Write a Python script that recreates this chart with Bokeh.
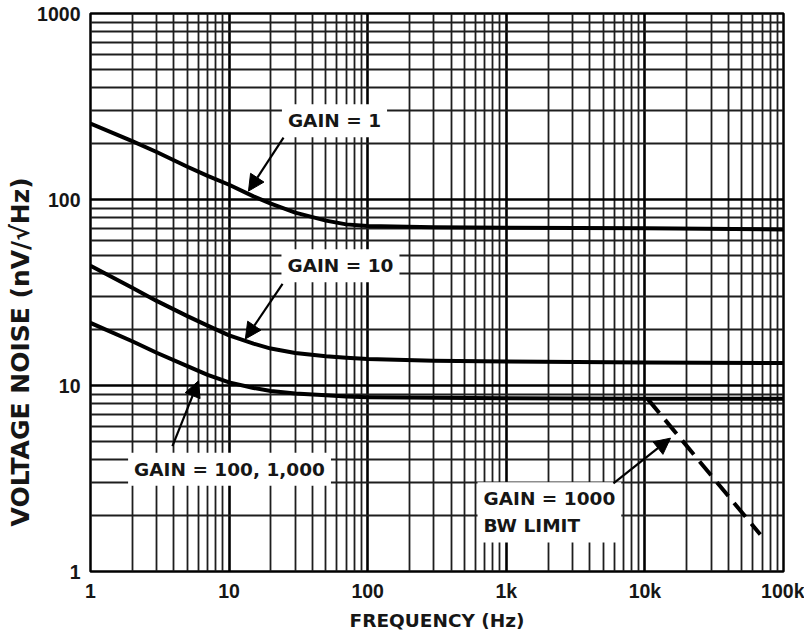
from bokeh.plotting import figure
from bokeh.models import FixedTicker, Label, Arrow, NormalHead, Title
from bokeh.embed import file_html
from bokeh.resources import INLINE

# ---- data ----
freq = [1, 2, 3, 5, 7, 10, 15, 20, 30, 50, 70, 100, 300, 1000, 10000, 100000]
gain1 = [256, 206, 180, 150, 134, 120, 104, 95, 85, 77, 73.5, 72, 71, 70.5, 70, 69]
gain10 = [44, 33.5, 28.5, 23.6, 21.0, 18.6, 16.8, 15.8, 14.95, 14.35, 14.1, 13.9, 13.6, 13.45, 13.3, 13.2]
gain100 = [21.7, 17.3, 15.0, 12.7, 11.4, 10.4, 9.7, 9.35, 9.05, 8.85, 8.72, 8.65, 8.58, 8.55, 8.5, 8.5]
bw_freq = [10500, 68000]
bw_noise = [8.45, 1.58]

x_ticks = [1, 10, 100, 1000, 10000, 100000]
x_tick_labels = ["1", "10", "100", "1k", "10k", "100k"]
y_ticks = [1, 10, 100, 1000]
y_tick_labels = ["1", "10", "100", "1000"]

TICK_FONT = "Liberation Sans"
FONT = "DejaVu Sans"
TXT = "#161616"

p = figure(x_axis_type="log", y_axis_type="log",
           x_range=(1, 100000), y_range=(1, 1000),
           frame_width=693, frame_height=558,
           min_border_left=90, min_border_top=13, min_border_right=21, min_border_bottom=58,
           output_backend="svg", toolbar_location=None)

x_minor = [k * d for d in x_ticks[:-1] for k in range(2, 10)]
y_minor = [k * d for d in y_ticks[:-1] for k in range(2, 10)]
xt = FixedTicker(ticks=x_ticks, minor_ticks=x_minor)
yt = FixedTicker(ticks=y_ticks, minor_ticks=y_minor)
p.xaxis.ticker = xt
p.yaxis.ticker = yt
p.xgrid.ticker = xt
p.ygrid.ticker = yt
p.xaxis.major_label_overrides = {t: l for t, l in zip(x_ticks, x_tick_labels)}
p.yaxis.major_label_overrides = {t: l for t, l in zip(y_ticks, y_tick_labels)}

for ax in (p.xaxis, p.yaxis):
    ax.axis_line_color = None
    ax.major_tick_line_color = None
    ax.minor_tick_line_color = None
    ax.major_tick_out = 0
    ax.major_tick_in = 0
    ax.minor_tick_out = 0
    ax.minor_tick_in = 0
    ax.major_label_text_font = TICK_FONT
    ax.major_label_text_font_style = "bold"
    ax.major_label_text_font_size = "19.5px"
    ax.major_label_text_color = TXT
    ax.axis_label_text_font = FONT
    ax.axis_label_text_font_style = "bold"
    ax.axis_label_text_font_size = "18.5px"
    ax.axis_label_text_color = TXT

p.xaxis.major_label_standoff = 8
p.yaxis.major_label_standoff = 10
p.xaxis.axis_label = "FREQUENCY (Hz)"
p.xaxis.axis_label_standoff = 5

for g in (p.xgrid, p.ygrid):
    g.grid_line_color = "black"
    g.grid_line_width = 2.6
    g.grid_line_alpha = 1
    g.minor_grid_line_color = "#1e1e1e"
    g.minor_grid_line_width = 1.8

p.outline_line_color = "black"
p.outline_line_width = 2.5
p.background_fill_color = "white"
p.border_fill_color = "white"

# ---- curves ----
for series in (gain1, gain10, gain100):
    p.line(freq, series, line_color="black", line_width=4, line_join="round")
p.line(bw_freq, bw_noise, line_color="black", line_width=4, line_dash="18 9")

# ---- annotations ----
def lab(x, y, text, align="center"):
    L = Label(x=x, y=y, text=text, text_font=FONT, text_font_style="bold",
              text_font_size="18.5px", text_color=TXT, text_align=align,
              text_baseline="middle", background_fill_color="white",
              background_fill_alpha=1, padding=6, text_line_height=1.3)
    p.add_layout(L)

lab(57.6, 265, "GAIN = 1")
lab(63.6, 44, "GAIN = 10")
lab(10.07, 3.55, "GAIN = 100, 1,000")
lab(620, 2.08, "GAIN = 1000\nBW LIMIT", align="left")

def arrow(x0, y0, x1, y1):
    a = Arrow(x_start=x0, y_start=y0, x_end=x1, y_end=y1, line_color="black",
              line_width=2.2,
              end=NormalHead(size=16, fill_color="black", line_color="black"))
    p.add_layout(a)

arrow(24.7, 215, 13.8, 111)
arrow(24.3, 35.2, 13.1, 17.8)
arrow(3.9, 4.72, 6.02, 10.6)
arrow(5930, 2.98, 15300, 5.21)

# y axis title, off-centre like the reference
p.add_layout(Title(text="VOLTAGE NOISE (nV/√Hz)", align="left", offset=45,
                   standoff=0, text_font=FONT, text_font_style="bold",
                   text_font_size="25px", text_color=TXT), "left")

open("out.html", "w").write(file_html(p, INLINE))
